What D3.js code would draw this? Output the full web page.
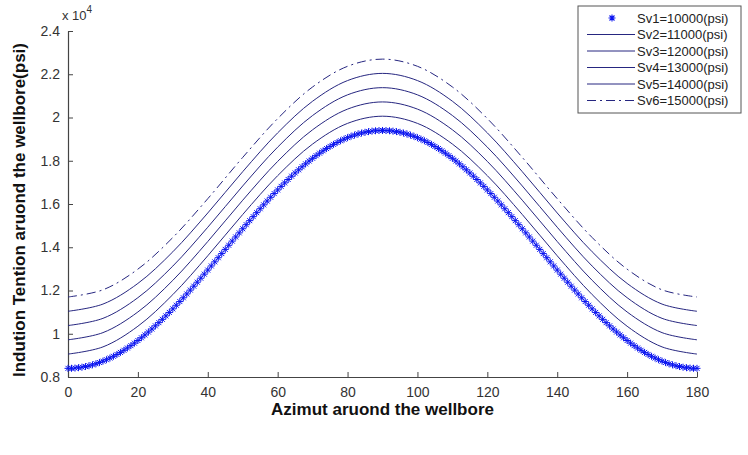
<!DOCTYPE html>
<html>
<head>
<meta charset="utf-8">
<script src="https://cdn.jsdelivr.net/npm/d3@7"></script>
<style>
  body { margin: 0; background: #fff; }
  text { font-family: "Liberation Sans Narrow", "Liberation Sans", Arial, sans-serif; }
</style>
</head>
<body>
<div id="chart"></div>
<script>
// Sv1 sampled every degree (asterisk markers)
var azimutSv1 = d3.range(0, 181, 1);
var sv1 = [8400, 8403, 8413, 8430, 8454, 8484, 8520, 8563, 8613, 8669,
  8732, 8800, 8876, 8957, 9044, 9137, 9236, 9340, 9450, 9566,
  9687, 9813, 9944, 10079, 10220, 10365, 10514, 10667, 10825, 10985,
  11150, 11318, 11489, 11663, 11840, 12019, 12200, 12384, 12569, 12756,
  12945, 13135, 13325, 13516, 13708, 13900, 14092, 14284, 14475, 14665,
  14855, 15044, 15231, 15416, 15600, 15781, 15960, 16137, 16311, 16482,
  16650, 16815, 16975, 17133, 17286, 17435, 17580, 17721, 17856, 17987,
  18113, 18234, 18350, 18460, 18564, 18663, 18756, 18843, 18924, 19000,
  19068, 19131, 19187, 19237, 19280, 19317, 19347, 19370, 19387, 19397,
  19400,
  19397, 19387, 19370, 19347, 19317, 19280, 19237, 19187, 19131, 19068,
  19000, 18924, 18843, 18756, 18663, 18564, 18460, 18350, 18234, 18113,
  17987, 17856, 17721, 17580, 17435, 17286, 17133, 16975, 16815, 16650,
  16482, 16311, 16137, 15960, 15781, 15600, 15416, 15231, 15044, 14855,
  14665, 14475, 14284, 14092, 13900, 13708, 13516, 13325, 13135, 12945,
  12756, 12569, 12384, 12200, 12019, 11840, 11663, 11489, 11318, 11150,
  10985, 10825, 10667, 10514, 10365, 10220, 10079, 9944, 9813, 9687,
  9566, 9450, 9340, 9236, 9137, 9044, 8957, 8876, 8800, 8732,
  8669, 8613, 8563, 8520, 8484, 8454, 8430, 8413, 8403, 8400];

// other series sampled every 10 degrees
var azimut = [0, 10, 20, 30, 40, 50, 60, 70, 80, 90, 100, 110, 120, 130, 140, 150, 160, 170, 180];
var sv2 = [9060, 9392, 10347, 11810, 13605, 15515, 17310, 18773, 19728, 20060, 19728, 18773, 17310, 15515, 13605, 11810, 10347, 9392, 9060];
var sv3 = [9720, 10052, 11007, 12470, 14265, 16175, 17970, 19433, 20388, 20720, 20388, 19433, 17970, 16175, 14265, 12470, 11007, 10052, 9720];
var sv4 = [10380, 10712, 11667, 13130, 14925, 16835, 18630, 20093, 21048, 21380, 21048, 20093, 18630, 16835, 14925, 13130, 11667, 10712, 10380];
var sv5 = [11040, 11372, 12327, 13790, 15585, 17495, 19290, 20753, 21708, 22040, 21708, 20753, 19290, 17495, 15585, 13790, 12327, 11372, 11040];
var sv6 = [11700, 12032, 12987, 14450, 16245, 18155, 19950, 21413, 22368, 22700, 22368, 21413, 19950, 18155, 16245, 14450, 12987, 12032, 11700];

var legendLabels = ['Sv1=10000(psi)', 'Sv2=11000(psi)', 'Sv3=12000(psi)', 'Sv4=13000(psi)', 'Sv5=14000(psi)', 'Sv6=15000(psi)'];
var xTicks = [0, 20, 40, 60, 80, 100, 120, 140, 160, 180];
var yTicks = [8000, 10000, 12000, 14000, 16000, 18000, 20000, 22000, 24000];

var width = 748;
var height = 455;
var plotLeft = 68, plotRight = 697, plotTop = 31, plotBottom = 377;
var lineColor = '#262680';
var starColor = '#0a14f0';
var axisColor = '#444';

var svg = d3.select('#chart')
    .append('svg')
    .attr('width', width)
    .attr('height', height)
    .style('background-color', '#fff');

var scaleX = d3.scaleLinear().domain([0, 180]).range([plotLeft, plotRight]);
var scaleY = d3.scaleLinear().domain([8000, 24000]).range([plotBottom, plotTop]);

// Axes (ticks point inward, like matlab)
var axisX = d3.axisBottom(scaleX)
    .tickValues(xTicks)
    .tickSizeInner(-5)
    .tickSizeOuter(0)
    .tickPadding(10);
var gx = svg.append('g')
    .attr('transform', 'translate(0,' + plotBottom + ')')
    .call(axisX);

var axisY = d3.axisLeft(scaleY)
    .tickValues(yTicks)
    .tickSizeInner(-5)
    .tickSizeOuter(0)
    .tickPadding(8)
    .tickFormat(function(d) { return String(Math.round(d / 1000) / 10); });
var gy = svg.append('g')
    .attr('transform', 'translate(' + plotLeft + ',0)')
    .call(axisY);

[gx, gy].forEach(function(g) {
  g.select('.domain').attr('stroke', axisColor).attr('stroke-width', 1.2);
  g.selectAll('.tick line').attr('stroke', axisColor);
  g.selectAll('.tick text')
      .attr('fill', '#333')
      .attr('font-size', 14)
      .style('font-family', '"Liberation Sans Narrow", "Liberation Sans", Arial, sans-serif');
});

// exponent label
var expLabel = svg.append('text')
    .attr('x', plotLeft - 6)
    .attr('y', plotTop - 11)
    .attr('font-size', 13)
    .attr('fill', '#333');
expLabel.append('tspan').text('x 10');
expLabel.append('tspan').attr('dy', -7).attr('font-size', 10).text('4');

// Axis titles
svg.append('text')
    .attr('x', (plotLeft + plotRight) / 2)
    .attr('y', plotBottom + 38)
    .attr('text-anchor', 'middle')
    .attr('font-size', 17)
    .attr('font-weight', 'bold')
    .style('font-family', 'Arial, "Liberation Sans", sans-serif')
    .attr('fill', '#111')
    .text('Azimut aruond the wellbore');

svg.append('text')
    .attr('transform', 'translate(25,' + ((plotTop + plotBottom) / 2 + 6) + ') rotate(-90)')
    .attr('text-anchor', 'middle')
    .attr('font-size', 17)
    .attr('font-weight', 'bold')
    .style('font-family', 'Arial, "Liberation Sans", sans-serif')
    .attr('fill', '#111')
    .text('Indution Tention aruond the wellbore(psi)');

// Lines
var line = d3.line()
    .x(function(d) { return scaleX(d[0]); })
    .y(function(d) { return scaleY(d[1]); })
    .curve(d3.curveCatmullRom);

var lineSeries = [sv2, sv3, sv4, sv5, sv6];
lineSeries.forEach(function(s, i) {
  svg.append('path')
      .datum(d3.zip(azimut, s))
      .attr('d', line)
      .attr('fill', 'none')
      .attr('stroke', lineColor)
      .attr('stroke-width', 1)
      .attr('stroke-dasharray', i === 4 ? '9,4,2,4' : null);
});

// Sv1 asterisks
var star = 'M-3.5,0H3.5M0,-3.5V3.5M-2.5,-2.5L2.5,2.5M-2.5,2.5L2.5,-2.5';
svg.append('g').selectAll('path')
    .data(d3.zip(azimutSv1, sv1))
    .enter()
    .append('path')
    .attr('transform', function(d) {
      return 'translate(' + scaleX(d[0]) + ',' + scaleY(d[1]) + ')';
    })
    .attr('d', star)
    .attr('stroke', starColor)
    .attr('stroke-width', 1)
    .attr('fill', 'none');

// Legend
var lgX = 578, lgY = 6, lgW = 163, rowH = 16.5;
var lg = svg.append('g');
lg.append('rect')
    .attr('x', lgX)
    .attr('y', lgY)
    .attr('width', lgW)
    .attr('height', rowH * 6 + 8)
    .attr('fill', '#fff')
    .attr('stroke', '#555');

legendLabels.forEach(function(label, i) {
  var cy = lgY + 12 + i * rowH;
  if (i === 0) {
    lg.append('path')
        .attr('transform', 'translate(' + (lgX + 34) + ',' + cy + ')')
        .attr('d', star)
        .attr('stroke', starColor)
        .attr('stroke-width', 1.1)
        .attr('fill', 'none');
  } else {
    lg.append('line')
        .attr('x1', lgX + 9).attr('x2', lgX + 57)
        .attr('y1', cy).attr('y2', cy)
        .attr('stroke', lineColor)
        .attr('stroke-dasharray', i === 5 ? '9,4,2,4' : null);
  }
  lg.append('text')
      .attr('x', lgX + 59)
      .attr('y', cy + 4.5)
      .attr('font-size', 13)
      .attr('fill', '#222')
      .text(label);
});
</script>
</body>
</html>
